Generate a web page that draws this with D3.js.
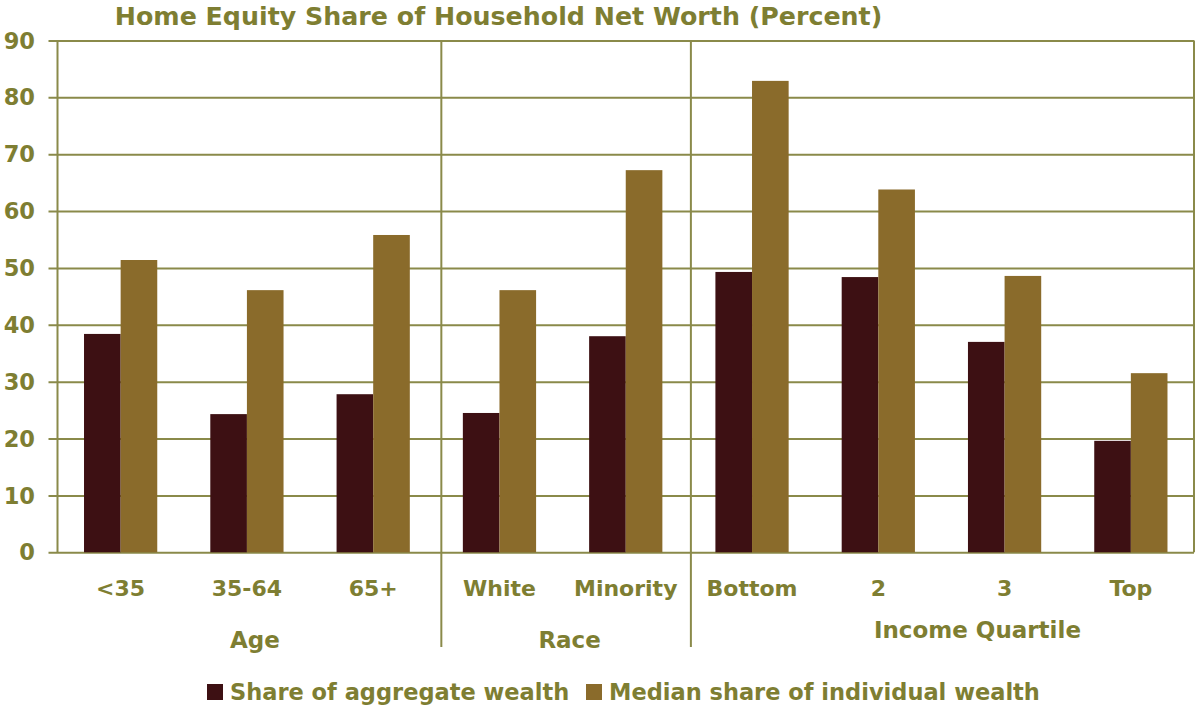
<!DOCTYPE html>
<html>
<head>
<meta charset="utf-8">
<script src="https://cdn.jsdelivr.net/npm/d3@7"></script>
<style>
  body { margin: 0; background: #fff; }
  svg { display: block; }
  text { font-family: "DejaVu Sans", Verdana, sans-serif; font-weight: bold; fill: #7e7e32; }
</style>
</head>
<body>
<svg id="chart" width="1195" height="706"></svg>
<script>
// Home equity as a share of household net worth, by household group
const categories = ["<35", "35-64", "65+", "White", "Minority", "Bottom", "2", "3", "Top"];
const groupNames = ["Age", "Race", "Income Quartile"];
const groupSizes = [3, 2, 4];
const seriesNames = ["Share of aggregate wealth", "Median share of individual wealth"];
const aggregateShare = [38.4, 24.3, 27.8, 24.5, 38.0, 49.3, 48.4, 37.0, 19.6];
const medianShare = [51.4, 46.1, 55.8, 46.1, 67.2, 82.9, 63.8, 48.6, 31.5];
const yTicks = [0, 10, 20, 30, 40, 50, 60, 70, 80, 90];
const titleText = "Home Equity Share of Household Net Worth (Percent)";

const seriesValues = [aggregateShare, medianShare];
const colors = ["#3d1013", "#8a6b2b"];
const lineColor = "#8a8a4a";

const svg = d3.select("#chart");
const plot = { left: 57.5, right: 1194, top: 40.5, bottom: 552.3 };

const x = d3.scaleBand().domain(categories).range([plot.left, plot.right]).padding(0);
const bw = x.bandwidth();
const xs = d3.scaleBand().domain(seriesNames).range([bw * 0.21, bw * 0.79]).padding(0);
const y = d3.scaleLinear().domain([0, 90]).range([plot.bottom, plot.top]);

// horizontal gridlines, with tick marks reaching left of the axis
const yAxis = d3.axisLeft(y).tickValues(yTicks).tickSize(plot.right - plot.left + 9).tickPadding(0).tickFormat("");
const gy = svg.append("g").attr("transform", `translate(${plot.right},0)`).call(yAxis);
gy.select(".domain").remove();
gy.selectAll(".tick line").attr("stroke", lineColor).attr("stroke-width", 2);

// y tick labels
svg.append("g").selectAll("text").data(yTicks).join("text")
  .attr("x", 35).attr("y", d => y(d)).attr("dy", "0.36em")
  .attr("text-anchor", "end").style("font-size", "22.5px").text(d => d);

// left axis and right frame edge
svg.append("line").attr("x1", plot.left).attr("x2", plot.left).attr("y1", plot.top).attr("y2", plot.bottom)
  .attr("stroke", lineColor).attr("stroke-width", 2);
svg.append("line").attr("x1", plot.right).attr("x2", plot.right).attr("y1", plot.top).attr("y2", plot.bottom)
  .attr("stroke", lineColor).attr("stroke-width", 2);

// group separators running down through the category labels
const boundaries = d3.cumsum(groupSizes).slice(0, -1);
const sepNudge = [5, 2];
svg.append("g").selectAll("line").data(boundaries).join("line")
  .attr("x1", (d, i) => x(categories[d]) + sepNudge[i])
  .attr("x2", (d, i) => x(categories[d]) + sepNudge[i])
  .attr("y1", plot.top).attr("y2", 647)
  .attr("stroke", lineColor).attr("stroke-width", 2);

// bars
const barGroups = svg.append("g").selectAll("g").data(categories).join("g")
  .attr("transform", d => `translate(${x(d)},0)`);
barGroups.selectAll("rect")
  .data((d, i) => seriesNames.map((s, k) => ({ s, k, v: seriesValues[k][i] })))
  .join("rect")
  .attr("x", d => xs(d.s)).attr("width", xs.bandwidth())
  .attr("y", d => y(d.v)).attr("height", d => y(0) - y(d.v))
  .attr("fill", d => colors[d.k]);

// category labels
svg.append("g").selectAll("text").data(categories).join("text")
  .attr("x", d => x(d) + bw / 2).attr("y", 596)
  .attr("text-anchor", "middle").style("font-size", "22px").text(d => d);

// group labels
const starts = [0, ...boundaries];
const groupNudge = [[8, 0], [7, 0], [36, -10]];
svg.append("g").selectAll("text").data(groupNames).join("text")
  .attr("x", (d, i) => {
    const a = x(categories[starts[i]]);
    const b = x(categories[starts[i] + groupSizes[i] - 1]) + bw;
    return (a + b) / 2 + groupNudge[i][0];
  })
  .attr("y", (d, i) => 648 + groupNudge[i][1])
  .attr("text-anchor", "middle").style("font-size", "23px").text(d => d);

// title
svg.append("text").attr("x", 498.5).attr("y", 25).attr("text-anchor", "middle")
  .style("font-size", "25.3px").text(titleText);

// legend
const legendX = [207, 586];
const lg = svg.append("g").selectAll("g").data(seriesNames).join("g")
  .attr("transform", (d, i) => `translate(${legendX[i]},684)`);
lg.append("rect").attr("width", 16).attr("height", 16).attr("fill", (d, i) => colors[i]);
lg.append("text").attr("x", 23).attr("y", 16).style("font-size", "22.5px").text(d => d);
</script>
</body>
</html>
